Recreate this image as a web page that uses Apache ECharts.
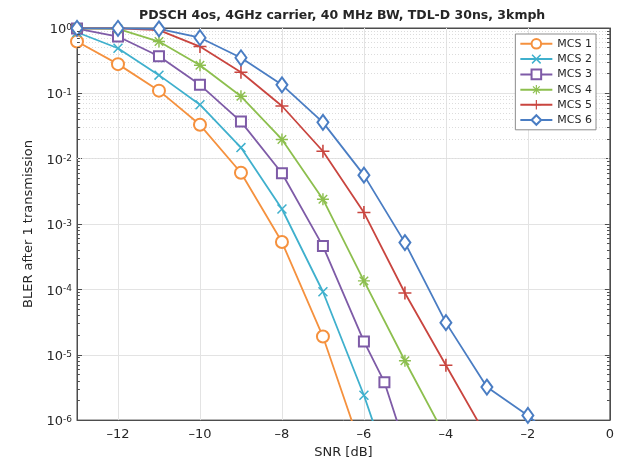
<!DOCTYPE html>
<html><head><meta charset="utf-8">
<script src="https://cdn.jsdelivr.net/npm/echarts@6/dist/echarts.min.js"></script>
<style>html,body{margin:0;padding:0;background:#fff}#c{width:617px;height:464px}</style>
</head><body><div id="c"></div>
<script>
const titleText = 'PDSCH 4os, 4GHz carrier, 40 MHz BW, TDL-D 30ns, 3kmph';
const xName = 'SNR [dB]';
const yName = 'BLER after 1 transmission';
const seriesNames = ['MCS 1', 'MCS 2', 'MCS 3', 'MCS 4', 'MCS 5', 'MCS 6'];
const seriesColors = ['#F5913E', '#3FB0CD', '#7E5BA7', '#8DBF4E', '#C9453F', '#4A7DC3'];

const snrMcs1 = [-13, -12, -11, -10, -9, -8, -7, -6];
const blerMcs1 = [0.62, 0.28, 0.11, 0.033, 0.0061, 5.3e-4, 1.9e-5, 2.8e-7];
const snrMcs2 = [-13, -12, -11, -10, -9, -8, -7, -6, -5.5];
const blerMcs2 = [0.86, 0.49, 0.19, 0.067, 0.0148, 0.0017, 9.2e-5, 2.4e-6, 2.9e-7];
const snrMcs3 = [-13, -12, -11, -10, -9, -8, -7, -6, -5.5, -5];
const blerMcs3 = [0.98, 0.74, 0.37, 0.135, 0.037, 0.006, 4.6e-4, 1.6e-5, 3.8e-6, 4.1e-7];
const snrMcs4 = [-13, -12, -11, -10, -9, -8, -7, -6, -5, -4];
const blerMcs4 = [0.99, 0.97, 0.62, 0.27, 0.09, 0.0197, 0.0024, 1.35e-4, 8.1e-6, 5.4e-7];
const snrMcs5 = [-13, -12, -11, -10, -9, -8, -7, -6, -5, -4, -3];
const blerMcs5 = [0.99, 0.99, 0.93, 0.52, 0.21, 0.064, 0.013, 0.0015, 8.8e-5, 6.9e-6, 5.5e-7];
const snrMcs6 = [-13, -12, -11, -10, -9, -8, -7, -6, -5, -4, -3, -2, -1];
const blerMcs6 = [0.99, 0.99, 0.97, 0.71, 0.35, 0.135, 0.036, 0.0056, 5.2e-4, 3.1e-5, 3.2e-6, 1.18e-6, 3.4e-7];

const xTicks = [-12, -10, -8, -6, -4, -2, 0];
const xMin = -13, xMax = 0;
const yMin = 1e-6, yMax = 1;

const FONT = 'DejaVu Sans';
const TXT = '#262626';
const AX = '#4d4d4d';

const pathX = 'path://M6.222,7.92L7.92,6.222L-6.222,-7.92L-7.92,-6.222Z M7.92,-6.222L6.222,-7.92L-7.92,6.222L-6.222,7.92Z';
const pathPlus = 'path://M-1.2,-10H1.2V-1.2H10V1.2H1.2V10H-1.2V1.2H-10V-1.2H-1.2Z';
const pathStar = 'path://M-1.2,-10H1.2V-1.2H10V1.2H1.2V10H-1.2V1.2H-10V-1.2H-1.2Z M-7.92,-6.222L-6.222,-7.92L7.92,6.222L6.222,7.92Z M-6.222,7.92L-7.92,6.222L6.222,-7.92L7.92,-6.222Z';

const symbols = ['emptyCircle', pathX, 'emptyRect', pathStar, pathPlus, 'emptyDiamond'];
const symbolSizes = [12, 10, 10, 12, 13, [11, 15]];
const borderWidths = [1.5, 0, 1.5, 0, 0, 1.5];

const xs = [snrMcs1, snrMcs2, snrMcs3, snrMcs4, snrMcs5, snrMcs6];
const ys = [blerMcs1, blerMcs2, blerMcs3, blerMcs4, blerMcs5, blerMcs6];

// minor (log) grid values
const minorVals = [];
for (let e = -6; e < 0; e++) for (let m = 2; m <= 9; m++) minorVals.push(m * Math.pow(10, e));

const dataSeries = seriesNames.map((name, i) => ({
  name: name,
  type: 'line',
  data: xs[i].map((x, k) => [x, ys[i][k]]),
  symbol: symbols[i],
  symbolSize: symbolSizes[i],
  showSymbol: true,
  clip: true,
  z: 3,
  color: seriesColors[i],
  lineStyle: { width: 1.8, color: seriesColors[i] },
  itemStyle: { color: seriesColors[i], borderColor: seriesColors[i], borderWidth: borderWidths[i] },
  emphasis: { disabled: true },
  animation: false
}));

const gridSeries = [
  {
    name: 'vgrid', type: 'line', data: [], silent: true, z: 1,
    markLine: {
      silent: true, symbol: 'none', z: 1, animation: false,
      label: { show: false },
      lineStyle: { color: '#e3e3e3', width: 1, type: 'solid' },
      emphasis: { disabled: true },
      data: xTicks.filter(v => v > xMin && v < xMax).map(v => ({ xAxis: v }))
    }
  },
  {
    name: 'mgrid', type: 'line', data: [], silent: true, z: 1,
    markLine: {
      silent: true, symbol: 'none', z: 1, animation: false,
      label: { show: false },
      lineStyle: { color: '#dcdcdc', width: 1, type: [1, 2] },
      emphasis: { disabled: true },
      data: minorVals.map(v => ({ yAxis: v }))
    }
  },
  {
    name: 'mticks', type: 'line', data: [], silent: true, z: 4,
    markLine: {
      silent: true, symbol: 'none', z: 4, animation: false,
      label: { show: false },
      lineStyle: { color: AX, width: 1, type: 'solid' },
      emphasis: { disabled: true },
      data: minorVals.map(v => [{ coord: [xMin, v] }, { coord: [xMin + 0.07, v] }])
        .concat(minorVals.map(v => [{ coord: [xMax - 0.07, v] }, { coord: [xMax, v] }]))
    }
  }
];

const chart = echarts.init(document.getElementById('c'), null, { renderer: 'canvas' });
chart.setOption({
  animation: false,
  backgroundColor: '#fff',
  title: {
    text: titleText, left: 134, top: 4,
    textStyle: { fontFamily: FONT, fontSize: 12.5, fontWeight: 'bold', color: TXT }
  },
  legend: {
    data: seriesNames,
    orient: 'vertical', right: 21, top: 34,
    padding: [4, 4, 4, 4], itemGap: 4, itemWidth: 32, itemHeight: 12,
    backgroundColor: '#fff', borderColor: '#8c8c8c', borderWidth: 1, borderRadius: 0,
    textStyle: { fontFamily: FONT, fontSize: 11, color: TXT },
    selectedMode: false
  },
  grid: { left: 77, right: 7, top: 28, bottom: 40, show: true, borderColor: AX, borderWidth: 1, backgroundColor: '#fff' },
  xAxis: [
    {
      type: 'value', min: xMin, max: xMax, interval: 1,
      name: xName, nameLocation: 'middle', nameGap: 24,
      nameTextStyle: { fontFamily: FONT, fontSize: 13, color: TXT },
      axisLine: { show: true, onZero: false, lineStyle: { color: AX } },
      axisTick: { show: true, inside: true, length: 5, customValues: xTicks, lineStyle: { color: AX } },
      axisLabel: {
        customValues: xTicks, margin: 8, fontFamily: FONT, fontSize: 13, color: TXT,
        formatter: v => (Math.abs(v % 2) < 1e-9 ? (v < 0 ? '\u2013' + (-v) : String(v)) : '')
      },
      splitLine: { show: false }
    },
    {
      type: 'value', min: xMin, max: xMax, interval: 1, position: 'top',
      axisLine: { show: true, onZero: false, lineStyle: { color: AX } },
      axisTick: { show: true, inside: true, length: 5, customValues: xTicks, lineStyle: { color: AX } },
      axisLabel: { show: false },
      splitLine: { show: false }
    }
  ],
  yAxis: [
    {
      type: 'log', logBase: 10, min: yMin, max: yMax, interval: 1,
      name: yName, nameLocation: 'middle', nameGap: 38,
      nameTextStyle: { fontFamily: FONT, fontSize: 13, color: TXT },
      axisLine: { show: true, onZero: false, lineStyle: { color: AX } },
      axisTick: { show: true, inside: true, length: 5, lineStyle: { color: AX } },
      axisLabel: {
        margin: 5, padding: [3.5, 0, 0, 0],
        formatter: v => {
          const e = Math.round(Math.log10(v));
          return '{b|10}{s|' + (e < 0 ? '-' + (-e) : String(e)) + '}';
        },
        rich: {
          b: { fontFamily: FONT, fontSize: 13, lineHeight: 13, color: TXT, verticalAlign: 'bottom' },
          s: { fontFamily: FONT, fontSize: 9, lineHeight: 10, color: TXT, verticalAlign: 'top', padding: [0, 0, 7.5, 0] }
        }
      },
      splitLine: { show: true, lineStyle: { color: '#e3e3e3', width: 1 } }
    },
    {
      type: 'log', logBase: 10, min: yMin, max: yMax, interval: 1, position: 'right',
      axisLine: { show: true, onZero: false, lineStyle: { color: AX } },
      axisTick: { show: true, inside: true, length: 5, lineStyle: { color: AX } },
      axisLabel: { show: false },
      splitLine: { show: false }
    }
  ],
  series: gridSeries.concat(dataSeries)
});
</script>
</body></html>
